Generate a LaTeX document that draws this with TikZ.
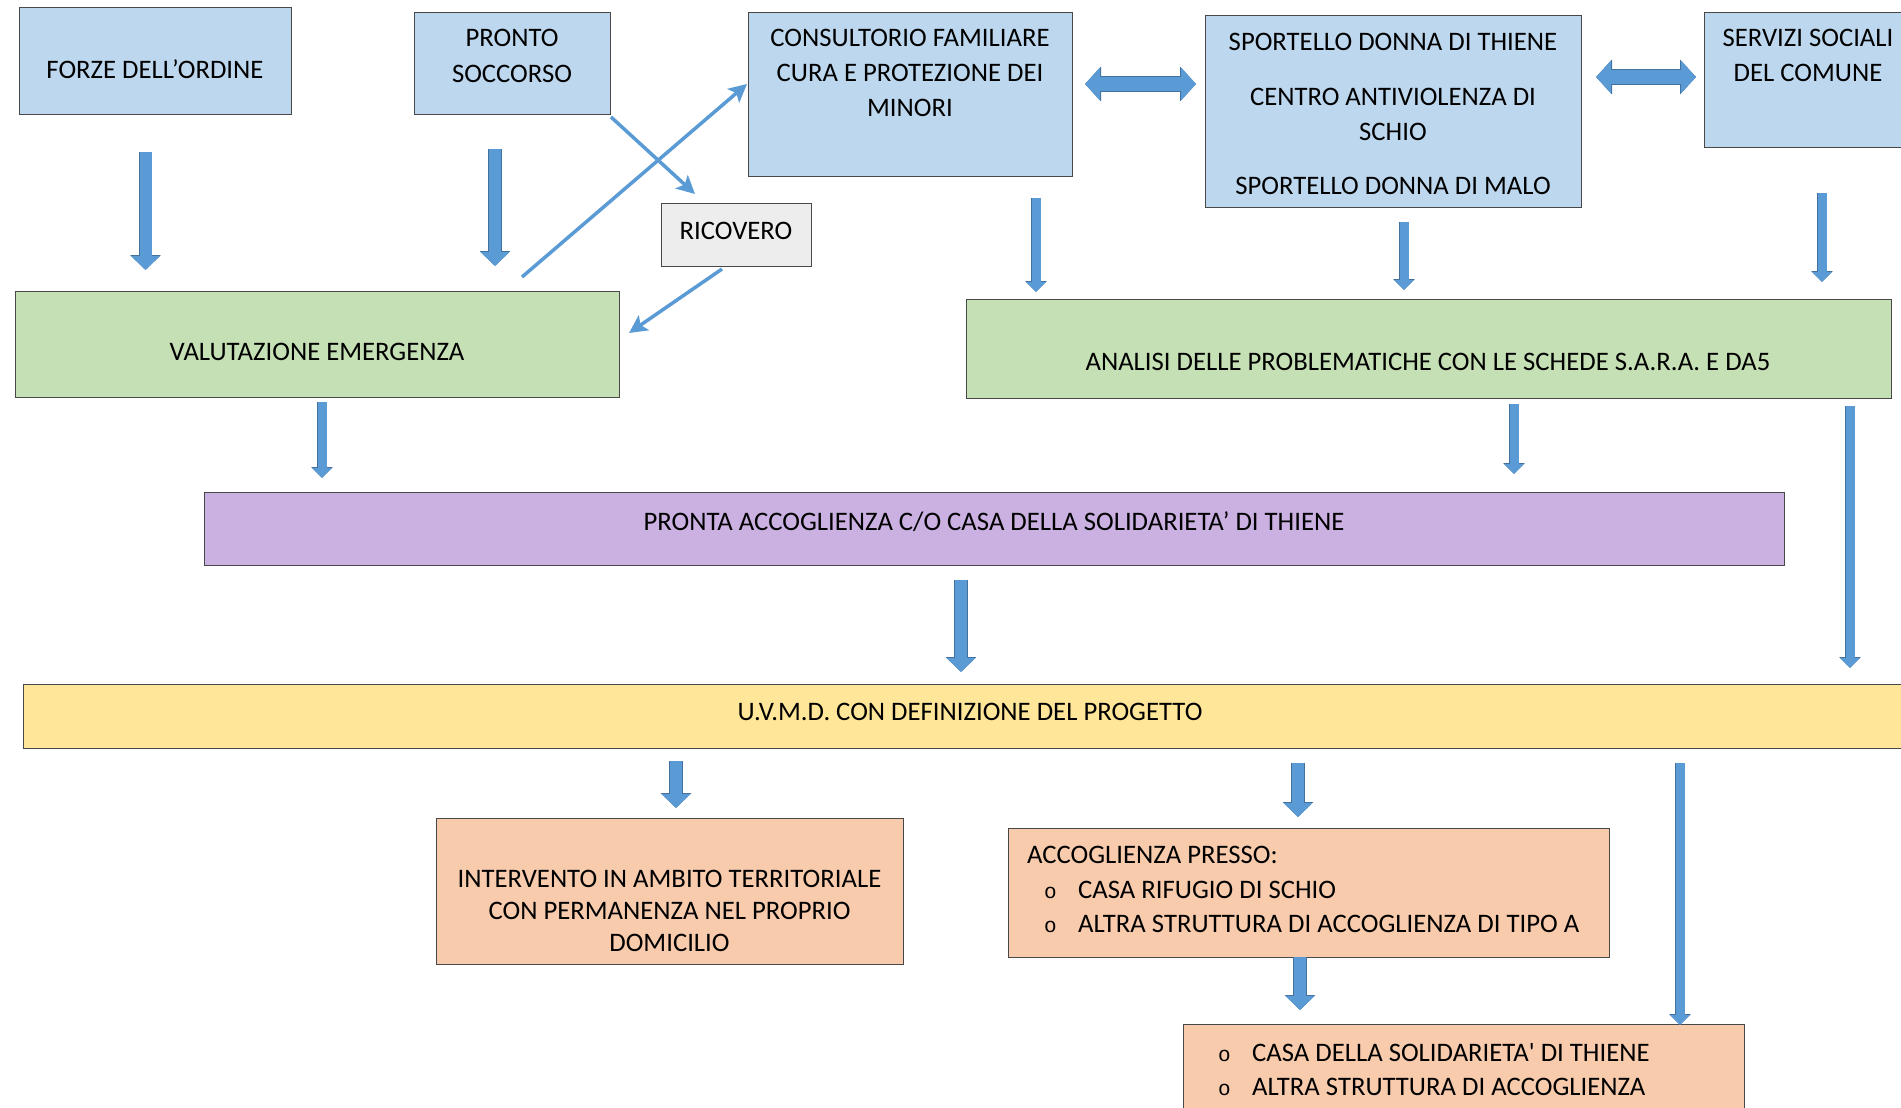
\documentclass[tikz,border=0pt]{standalone}
\usepackage{fontspec}
\setmainfont{Carlito}
\newfontfamily\bulletfont{Liberation Mono}
\usepackage{tikz}
\usetikzlibrary{arrows.meta}

\definecolor{cblue}{RGB}{189,215,238}
\definecolor{cgray}{RGB}{237,237,237}
\definecolor{cgreen}{RGB}{197,224,180}
\definecolor{cpurple}{RGB}{203,176,226}
\definecolor{cyellow}{RGB}{255,230,153}
\definecolor{corange}{RGB}{248,203,173}
\definecolor{boxline}{RGB}{72,72,72}
\definecolor{arrowfill}{RGB}{91,155,213}
\definecolor{arrowline}{RGB}{65,113,156}

\newcommand{\bulletitem}[1]{\makebox[34pt][l]{\bulletfont\fontsize{21}{21}\selectfont o}#1}

\tikzset{
  box/.style={rectangle, draw=boxline, line width=1.3pt, inner sep=0pt, anchor=north west},
  bluebox/.style={box, fill=cblue},
  graybox/.style={box, fill=cgray},
  greenbox/.style={box, fill=cgreen},
  purplebox/.style={box, fill=cpurple},
  yellowbox/.style={box, fill=cyellow},
  orangebox/.style={box, fill=corange},
  lbl/.style={inner sep=0pt, align=center, anchor=north, text=black, font=\fontsize{26.7}{35}\selectfont},
  fatarrow/.style={draw=arrowfill, line width=12pt, -{Triangle[length=14pt,width=28pt]},
    preaction={draw=arrowline, line width=13.5pt, -{Triangle[length=15pt,width=30pt]}}},
  slimarrow/.style={draw=arrowfill, line width=9pt, -{Triangle[length=10pt,width=19pt]},
    preaction={draw=arrowline, line width=10.5pt, -{Triangle[length=11pt,width=21pt]}}},
  dblarrow/.style={draw=arrowfill, line width=14pt, {Triangle[length=15pt,width=32pt]}-{Triangle[length=15pt,width=32pt]},
    preaction={draw=arrowline, line width=15.5pt, {Triangle[length=16pt,width=34pt]}-{Triangle[length=16pt,width=34pt]}}},
  thinarrow/.style={draw=arrowfill, line width=3.5pt, -{Stealth[length=18pt,width=18pt,inset=4pt]}}
}

\begin{document}
\begin{tikzpicture}[x=1pt,y=1pt,yscale=-1]
\useasboundingbox[fill=white] (0,0) rectangle (1901,1108);
\clip (0,0) rectangle (1901,1108);

%Boxes
\node[bluebox, minimum width=272pt, minimum height=107pt] (forze) at (19,7) {};
\node[bluebox, minimum width=196pt, minimum height=102pt] (pronto) at (414,12) {};
\node[bluebox, minimum width=324pt, minimum height=164pt] (cons) at (748,12) {};
\node[bluebox, minimum width=376pt, minimum height=192pt] (sport) at (1205,15) {};
\node[bluebox, minimum width=208pt, minimum height=135pt] (serv) at (1704,12) {};
\node[graybox, minimum width=150pt, minimum height=63pt] (ricov) at (661,203) {};
\node[greenbox, minimum width=604pt, minimum height=106pt] (val) at (15,291) {};
\node[greenbox, minimum width=925pt, minimum height=99pt] (anal) at (966,299) {};
\node[purplebox, minimum width=1580pt, minimum height=73pt] (pronta) at (204,492) {};
\node[yellowbox, minimum width=1894pt, minimum height=64pt] (uvmd) at (23,684) {};
\node[orangebox, minimum width=467pt, minimum height=146pt] (interv) at (436,818) {};
\node[orangebox, minimum width=601pt, minimum height=129pt] (accog) at (1008,828) {};
\node[orangebox, minimum width=561pt, minimum height=110pt] (bottom) at (1183,1024) {};

% Text Node
\node[lbl] (forzeT) at (155,59) {FORZE DELL’ORDINE};
% Text Node
\node[lbl, font=\fontsize{26.7}{36}\selectfont] (prontoT) at (512,29) {PRONTO\\SOCCORSO};
% Text Node
\node[lbl] (consT) at (910,29) {CONSULTORIO FAMILIARE\\CURA E PROTEZIONE DEI\\MINORI};
% Text Node
\node[lbl] (sportT) at (1393,33) {SPORTELLO DONNA DI THIENE\\[20pt]CENTRO ANTIVIOLENZA DI\\SCHIO\\[19pt]SPORTELLO DONNA DI MALO};
% Text Node
\node[lbl] (servT) at (1808,29) {SERVIZI SOCIALI\\DEL COMUNE};
% Text Node
\node[lbl] (ricovT) at (736,222) {RICOVERO};
% Text Node
\node[lbl] (valT) at (317,343) {VALUTAZIONE EMERGENZA};
% Text Node
\node[lbl] (analT) at (1428,353) {ANALISI DELLE PROBLEMATICHE CON LE SCHEDE S.A.R.A. E DA5};
% Text Node
\node[lbl] (prontaT) at (994,511) {PRONTA ACCOGLIENZA C/O CASA DELLA SOLIDARIETA’ DI THIENE};
% Text Node
\node[lbl] (uvmdT) at (970,703) {U.V.M.D. CON DEFINIZIONE DEL PROGETTO};
% Text Node
\node[lbl, font=\fontsize{26.7}{32}\selectfont] (intervT) at (669.5,870) {INTERVENTO IN AMBITO TERRITORIALE\\CON PERMANENZA NEL PROPRIO\\DOMICILIO};
% Text Node
\node[lbl, align=left, anchor=north west, font=\fontsize{26.7}{34.5}\selectfont] (accogT) at (1027,846) {ACCOGLIENZA PRESSO:\\\hspace*{17pt}\bulletitem{CASA RIFUGIO DI SCHIO}\\\hspace*{17pt}\bulletitem{ALTRA STRUTTURA DI ACCOGLIENZA DI TIPO A}};
% Text Node
\node[lbl, align=left, anchor=north west, font=\fontsize{26.7}{34}\selectfont] (bottomT) at (1218,1043) {\bulletitem{CASA DELLA SOLIDARIETA\textquotesingle{} DI THIENE}\\\bulletitem{ALTRA STRUTTURA DI ACCOGLIENZA}};

%Arrow ends
\coordinate (a1s) at (145.5,152); \coordinate (a1e) at (145.5,270);
\coordinate (a2s) at (495,149); \coordinate (a2e) at (495,266);
\coordinate (a3s) at (1036,198); \coordinate (a3e) at (1036,292);
\coordinate (a4s) at (1404,222); \coordinate (a4e) at (1404,290);
\coordinate (a5s) at (1822,193); \coordinate (a5e) at (1822,282);
\coordinate (a6s) at (322,402); \coordinate (a6e) at (322,478);
\coordinate (a7s) at (1514,404); \coordinate (a7e) at (1514,474);
\coordinate (a8s) at (1850,406); \coordinate (a8e) at (1850,668);
\coordinate (a9s) at (961,580); \coordinate (a9e) at (961,672);
\coordinate (a10s) at (676,761); \coordinate (a10e) at (676,808);
\coordinate (a11s) at (1298,763); \coordinate (a11e) at (1298,817);
\coordinate (a12s) at (1680,763); \coordinate (a12e) at (1680,1025);
\coordinate (a13s) at (1300,957); \coordinate (a13e) at (1300,1010);
\coordinate (d1l) at (1085,84); \coordinate (d1r) at (1196,84);
\coordinate (d2l) at (1596,77); \coordinate (d2r) at (1696,77);
\coordinate (t1s) at (611,117); \coordinate (t1e) at (695,194);
\coordinate (t2s) at (522,277); \coordinate (t2e) at (747,84);
\coordinate (t3s) at (722,269); \coordinate (t3e) at (629,333);

%Block arrows
\draw[fatarrow] (a1s) -- (a1e);
\draw[fatarrow] (a2s) -- (a2e);
\draw[slimarrow] (a3s) -- (a3e);
\draw[slimarrow] (a4s) -- (a4e);
\draw[slimarrow] (a5s) -- (a5e);
\draw[slimarrow] (a6s) -- (a6e);
\draw[slimarrow] (a7s) -- (a7e);
\draw[slimarrow] (a8s) -- (a8e);
\draw[fatarrow] (a9s) -- (a9e);
\draw[fatarrow] (a10s) -- (a10e);
\draw[fatarrow] (a11s) -- (a11e);
\draw[slimarrow] (a12s) -- (a12e);
\draw[fatarrow] (a13s) -- (a13e);
\draw[dblarrow] (d1l) -- (d1r);
\draw[dblarrow] (d2l) -- (d2r);

%Straight Lines
\draw[thinarrow] (t1s) -- (t1e);
\draw[thinarrow] (t2s) -- (t2e);
\draw[thinarrow] (t3s) -- (t3e);

\end{tikzpicture}
\end{document}
